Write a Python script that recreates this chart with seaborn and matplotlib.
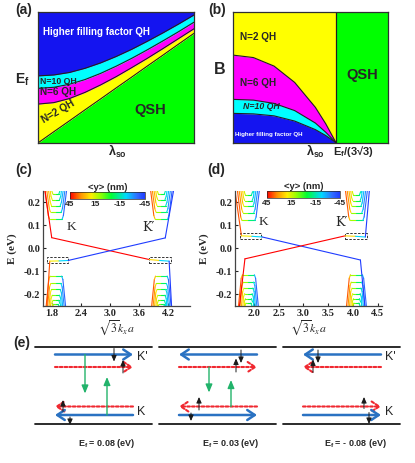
import numpy as np
import matplotlib
matplotlib.use("Agg")
import matplotlib.pyplot as plt
import seaborn as sns
from matplotlib.collections import LineCollection
from matplotlib.colors import LinearSegmentedColormap, Normalize
from matplotlib.patches import Rectangle
from matplotlib.cm import ScalarMappable

# ---------------- data ----------------
# (a) E_f vs lambda_so phase boundaries (axis fractions)
lam_a = [0.0, 0.1, 0.2, 0.3, 0.4, 0.5, 0.6, 0.7, 0.8, 0.9, 1.0]
qsh_a = [0.0, 0.084, 0.167, 0.251, 0.334, 0.418, 0.501, 0.585, 0.668, 0.752, 0.835]
n2_a = [0.295, 0.306, 0.337, 0.384, 0.441, 0.504, 0.573, 0.644, 0.718, 0.794, 0.870]
n6_a = [0.415, 0.423, 0.446, 0.482, 0.529, 0.584, 0.644, 0.709, 0.777, 0.847, 0.920]
n10_a = [0.510, 0.517, 0.536, 0.568, 0.609, 0.658, 0.713, 0.774, 0.838, 0.905, 0.975]

# (b) B vs lambda_so, lambda in units of E_f/(3*sqrt3)
lam_b = [0.0, 0.2, 0.4, 0.6, 0.8, 0.9, 1.0]
n2_b = [0.669, 0.650, 0.585, 0.460, 0.270, 0.145, 0.0]
n6_b = [0.331, 0.325, 0.300, 0.245, 0.150, 0.080, 0.0]
n10_b = [0.224, 0.220, 0.205, 0.165, 0.100, 0.055, 0.0]

# (c), (d) Landau levels (eV) and valley centres
valley_c = [1.885, 4.06]
valley_d = [1.89, 4.07]
ll_up_c = [0.128, 0.158, 0.186, 0.212, 0.236]
ll_dn_c = [-0.120, -0.152, -0.178, -0.203, -0.225, -0.243]
ll_up_d = [0.122, 0.156, 0.183, 0.208, 0.232]
ll_dn_d = [-0.114, -0.146, -0.172, -0.196, -0.218, -0.237]
hw_flat_up = [0.13, 0.11, 0.09, 0.075, 0.06]
hw_end_up = [0.22, 0.185, 0.15, 0.115, 0.085]
hw_flat_dn = [0.12, 0.105, 0.09, 0.075, 0.06, 0.05]
hw_end_dn = [0.20, 0.17, 0.14, 0.11, 0.085, 0.065]
ymax_up = [40, 34, 29, 25, 22]
ymax_dn = [40, 34, 29, 25, 22, 20]

# edge states: k, E, <y>
c_edge1 = ([1.66, 1.80, 3.81, 4.02, 4.22, 4.27], [0.25, 0.047, -0.048, -0.052, -0.055, -0.25], [45, 45, 45, 0, -45, -45])
c_edge2 = ([1.70, 1.76, 1.95, 2.14, 4.14, 4.31], [-0.25, -0.055, -0.054, -0.052, 0.046, 0.25], [38, 38, 0, -45, -45, -45])
d_edge1 = ([1.62, 1.75, 1.96, 2.17, 4.15, 4.24], [0.25, 0.055, 0.053, 0.05, -0.05, -0.25], [38, 38, 0, -45, -45, -45])
d_edge2 = ([1.71, 1.82, 3.84, 4.05, 4.25, 4.33], [-0.25, -0.045, 0.055, 0.053, 0.05, 0.25], [45, 45, 45, 0, -45, -45])
c_boxes = [(1.71, -0.064), (3.81, -0.064)]
d_boxes = [(1.72, 0.042), (3.84, 0.042)]
box_w = [0.43, 0.44]

# (e) sketches
e_x0 = [35, 159, 283]
e_lvl = [354.5, 367, 406.5, 415]          # K' blue, K' red, K red, K blue
e_dirs = [[1, 1, -1, -1], [-1, 1, -1, 1], [-1, -1, 1, 1]]
e_ef = ["0.08", "0.03", "- 0.08"]
e_spin = [[(79, 348.5, 361.5), (88, 373, 360), (28, 411.5, 400), (35, 417, 425)],
          [(82, 350, 363), (77, 372, 358.5), (40, 410, 397), (32, 413, 421)],
          [(35, 350, 363), (30, 372.5, 359.5), (81, 408.5, 397), (86, 412.5, 424)]]
e_green = [[(50, 354.5, 393.5), (72, 415, 377)], [(50, 367, 392.5), (72, 406.5, 380)], []]

# ---------------- style ----------------
sns.set_theme(style="white")
plt.rcParams["font.family"] = ["Liberation Sans", "DejaVu Sans"]
plt.rcParams["mathtext.fontset"] = "custom"
plt.rcParams["mathtext.rm"] = "Liberation Sans"
plt.rcParams["mathtext.bf"] = "Liberation Sans:bold"
plt.rcParams["mathtext.it"] = "Liberation Sans:italic"
plt.rcParams["axes.unicode_minus"] = False

BLUE, CYAN, MAG, YEL, GRN = "#1414f0", "#00ffff", "#ff00ff", "#ffff00", "#00ff00"
cmap_y = LinearSegmentedColormap.from_list(
    "yexp", [(0.0, "#1f3cff"), (0.1, "#2f6bff"), (0.25, "#00d8ff"), (0.45, "#00ff33"),
             (0.6, "#99ff00"), (0.72, "#ffee00"), (0.86, "#ff9000"), (1.0, "#ff0000")])
norm_y = Normalize(-45, 45)

fig = plt.figure(figsize=(4.15, 4.63), dpi=100)

# ---------------- (a) ----------------
ax = fig.add_axes([0.0923, 0.6918, 0.3752, 0.2829])
ax.fill_between(lam_a, 0, qsh_a, color=GRN, lw=0)
ax.fill_between(lam_a, qsh_a, n2_a, color=YEL, lw=0)
ax.fill_between(lam_a, n2_a, n6_a, color=MAG, lw=0)
ax.fill_between(lam_a, n6_a, n10_a, color=CYAN, lw=0)
ax.fill_between(lam_a, n10_a, 1, color=BLUE, lw=0)
for b in [qsh_a, n2_a, n6_a, n10_a]:
    sns.lineplot(x=lam_a, y=b, ax=ax, color="#202020", lw=0.8)
ax.set_xlim(0, 1)
ax.set_ylim(0, 1)
ax.set_xticks([])
ax.set_yticks([])
ax.text(0.03, 0.845, "Higher filling factor QH", color="white", fontsize=7, weight="bold", va="center")
ax.text(0.012, 0.47, "N=10 QH", fontsize=6.3, weight="bold", va="center")
ax.text(0.012, 0.385, "N=6 QH", fontsize=7.2, weight="bold", va="center")
ax.text(0.13, 0.235, "N=2 QH", fontsize=7.2, weight="bold", va="center", ha="center", rotation=30)
ax.text(0.72, 0.25, "QSH", fontsize=10.5, weight="bold", va="center", ha="center")

# ---------------- (b) ----------------
ax = fig.add_axes([0.5607, 0.6918, 0.375, 0.2829])
ax.fill_between(lam_b, n2_b, 1, color=YEL, lw=0)
ax.fill_between(lam_b, n6_b, n2_b, color=MAG, lw=0)
ax.fill_between(lam_b, n10_b, n6_b, color=CYAN, lw=0)
ax.fill_between(lam_b, 0, n10_b, color=BLUE, lw=0)
ax.axvspan(1, 1.506, color=GRN, lw=0)
for b in [n2_b, n6_b, n10_b]:
    sns.lineplot(x=lam_b, y=b, ax=ax, color="#202020", lw=0.8)
ax.axvline(1, color="#202020", lw=0.9)
ax.set_xlim(0, 1.506)
ax.set_ylim(0, 1)
ax.set_xticks([])
ax.set_yticks([])
ax.text(0.07, 0.807, "N=2 QH", fontsize=7.2, weight="bold", va="center")
ax.text(0.07, 0.456, "N=6 QH", fontsize=7.2, weight="bold", va="center")
ax.text(0.1, 0.273, "N=10 QH", fontsize=6.3, weight="bold", style="italic", va="center")
ax.text(0.02, 0.06, "Higher filling factor QH", color="white", fontsize=4.4, weight="bold", va="center")
ax.text(1.256, 0.52, "QSH", fontsize=10.5, weight="bold", va="center", ha="center")

for a_ in fig.axes:
    for s in a_.spines.values():
        s.set_color("#303030")
        s.set_linewidth(0.9)

fig.text(0.057, 0.978, "(a)", fontsize=10, weight="bold", ha="center", va="center")
fig.text(0.524, 0.978, "(b)", fontsize=10, weight="bold", ha="center", va="center")
fig.text(0.053, 0.827, r"$\mathbf{E}_{\mathbf{f}}$", fontsize=10, ha="center", va="center")
fig.text(0.53, 0.849, "B", fontsize=11.5, weight="bold", ha="center", va="center")
fig.text(0.282, 0.672, r"λ$_{\mathbf{so}}$", fontsize=9, weight="bold", ha="center", va="center")
fig.text(0.761, 0.672, r"λ$_{\mathbf{so}}$", fontsize=9, weight="bold", ha="center", va="center")
fig.text(0.851, 0.672, r"$\mathbf{E}_{\mathbf{f}}$/(3√3)", fontsize=8, weight="bold", ha="center", va="center")


# ---------------- (c), (d) ----------------
def add_curve(ax, k, e, v, lw=0.8):
    pts = np.column_stack([k, e])
    segs = np.stack([pts[:-1], pts[1:]], axis=1)
    mid = (np.asarray(v[:-1], float) + np.asarray(v[1:], float)) / 2
    ax.add_collection(LineCollection(segs, colors=cmap_y(norm_y(mid)), linewidths=lw, capstyle="round"))


def landau_fan(ax, kc, levels, hw_flat, hw_end, vmax, e_end):
    s = np.sign(e_end)
    for E, hf, he, v in zip(levels, hw_flat, hw_end, vmax):
        k = [kc - he, kc - hf - 0.025, kc - hf, kc, kc + hf, kc + hf + 0.025, kc + he]
        e = [e_end, E + 0.015 * s, E, E, E, E + 0.015 * s, e_end]
        add_curve(ax, k, e, [v, 0.85 * v, 0.5 * v, 0, -0.5 * v, -0.85 * v, -v])


def band_panel(rect, valleys, ll_up, ll_dn, edges, boxes, xlim, xticks, klab, cbar_rect):
    ax = fig.add_axes(rect)
    for kc in valleys:
        landau_fan(ax, kc, ll_up, hw_flat_up, hw_end_up, ymax_up, 0.25)
        landau_fan(ax, kc, ll_dn, hw_flat_dn, hw_end_dn, ymax_dn, -0.25)
    for k, e, v in edges:
        add_curve(ax, k, e, v)
    for (x0, y0), w in zip(boxes, box_w):
        ax.add_patch(Rectangle((x0, y0), w, 0.026, fill=False, ec="#333333", lw=0.7, ls=(0, (2.5, 1.5))))
    ax.set_xlim(xlim)
    ax.set_ylim(-0.25, 0.25)
    ax.set_xticks(xticks)
    ax.set_xticklabels([f"{t:.1f}" for t in xticks])
    ax.set_yticks([-0.2, -0.1, 0.0, 0.1, 0.2])
    ax.set_yticklabels(["-0.2", "-0.1", "0.0", "0.1", "0.2"])
    sns.despine(ax=ax)
    for s in ax.spines.values():
        s.set_color("#444444")
        s.set_linewidth(0.9)
    ax.tick_params(direction="in", length=2.5, width=0.8, labelsize=7.5, pad=2, bottom=True, left=True)
    for t in ax.get_xticklabels() + ax.get_yticklabels():
        t.set_fontfamily("Liberation Serif")
        t.set_fontweight("bold")
    ax.set_ylabel("E (eV)", family="Liberation Serif", weight="bold", fontsize=8, labelpad=5)
    ax.set_xlabel(r"$\sqrt{3}k_x a$", math_fontfamily="stix", fontsize=8.5, labelpad=0)
    (kx, ky), (kpx, kpy) = klab
    ax.text(kx, ky, "K", family="Liberation Serif", fontsize=9.5, ha="center", va="center")
    ax.text(kpx, kpy, "K\u2032", family="DejaVu Serif", fontsize=9, ha="left", va="center")
    cax = fig.add_axes(cbar_rect)
    cb = fig.colorbar(ScalarMappable(norm=norm_y, cmap=cmap_y), cax=cax, orientation="horizontal")
    cax.invert_xaxis()
    cb.set_ticks([45, 15, -15, -45])
    cb.outline.set_linewidth(0.5)
    cax.tick_params(length=0, pad=1.5, labelsize=6, bottom=True)
    for t in cax.get_xticklabels():
        t.set_fontweight("bold")
    cax.set_title("<y> (nm)", fontsize=6.8, weight="bold", pad=1.5)
    return ax


band_panel([0.1036, 0.3391, 0.3542, 0.2484], valley_c, ll_up_c, ll_dn_c, [c_edge1, c_edge2], c_boxes,
           (1.62, 4.65), [1.8, 2.4, 3.0, 3.6, 4.2], ((2.21, 0.092), (3.66, 0.092)),
           [0.1687, 0.5702, 0.1807, 0.0151])
band_panel([0.5663, 0.3391, 0.3535, 0.2484], valley_d, ll_up_d, ll_dn_d, [d_edge1, d_edge2], d_boxes,
           (1.62, 4.58), [2.0, 2.5, 3.0, 3.5, 4.0, 4.5], ((2.2, 0.114), (3.65, 0.114)),
           [0.6426, 0.5717, 0.1766, 0.0164])
fig.text(0.058, 0.633, "(c)", fontsize=10, weight="bold", ha="center", va="center")
fig.text(0.522, 0.633, "(d)", fontsize=10, weight="bold", ha="center", va="center")

# ---------------- (e) ----------------
ax = fig.add_axes([0, 0, 1, 133 / 463])
ax.set_xlim(0, 415)
ax.set_ylim(463, 330)
ax.axis("off")
lvl_col = ["#2a72c2", "#f02830", "#f02830", "#2a72c2"]
for x0, dirs, ef, spins, greens in zip(e_x0, e_dirs, e_ef, e_spin, e_green):
    for yb in [347, 424]:
        ax.plot([x0, x0 + 117], [yb, yb], color="#1a1a1a", lw=1.3)
    for y, d, c in zip(e_lvl, dirs, lvl_col):
        a0, a1 = (x0 + 20, x0 + 98) if d > 0 else (x0 + 98, x0 + 20)
        dotted = c != "#2a72c2"
        ax.annotate("", xy=(a1, y), xytext=(a0, y),
                    arrowprops=dict(arrowstyle="->,head_length=0.45,head_width=0.3", color=c,
                                    lw=1.5 if dotted else 1.8, ls=(0, (1.3, 1.0)) if dotted else "-",
                                    shrinkA=0, shrinkB=0))
    for xs, ya, yb in spins:
        ax.annotate("", xy=(x0 + xs, yb), xytext=(x0 + xs, ya),
                    arrowprops=dict(arrowstyle="-|>,head_length=0.5,head_width=0.22", color="#1a1a1a",
                                    lw=0.7, shrinkA=0, shrinkB=0, mutation_scale=7))
    for xs, ya, yb in greens:
        ax.annotate("", xy=(x0 + xs, yb), xytext=(x0 + xs, ya),
                    arrowprops=dict(arrowstyle="-|>,head_length=0.6,head_width=0.25", color="#22b36b",
                                    lw=1.0, shrinkA=0, shrinkB=0, mutation_scale=8))
    ax.text(x0 + 72, 443, r"$\mathbf{E}_{\mathbf{f}}$ = " + ef + " (eV)", fontsize=6.5, weight="bold",
            ha="center", va="center")
for x0 in [e_x0[0], e_x0[2]]:
    ax.text(x0 + 102, 357.5, "K'", fontsize=9, ha="left", va="center")
    ax.text(x0 + 102, 412, "K", fontsize=9, ha="left", va="center")
fig.text(0.053, 0.259, "(e)", fontsize=10, weight="bold", ha="center", va="center")

fig.savefig("out.png", dpi=100)
